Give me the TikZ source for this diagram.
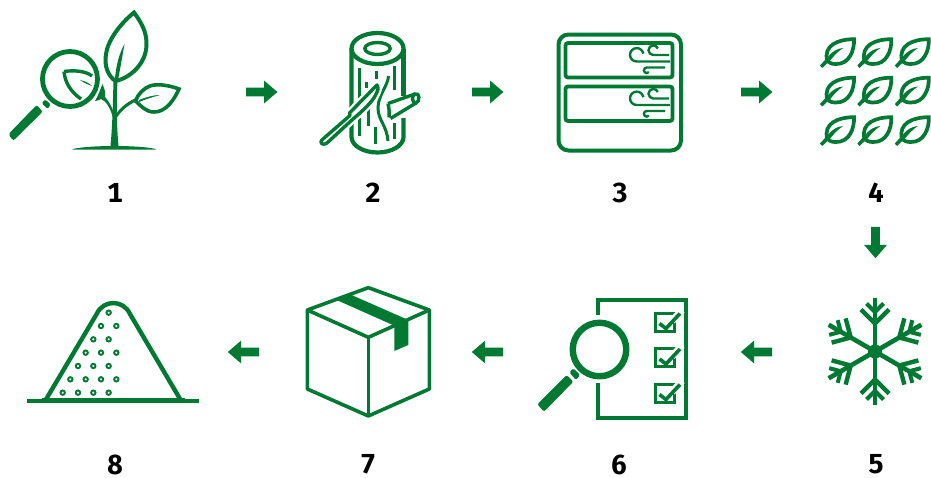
\documentclass[tikz,border=0pt]{standalone}
\usepackage{fontspec}
\setmainfont[Numbers=Monospaced]{Fira Sans}
\definecolor{gr}{HTML}{007A33}
\tikzset{
 num/.style={font=\fontsize{27.5}{27.5}\selectfont\bfseries,text=black,inner sep=0pt,anchor=center},
}
\newcommand{\fatarrow}[2]{\fill[gr,shift={(#1)},rotate=#2] (-15.7,-4.4) -- (2.3,-4.4) -- (2.3,-11.5) -- (15.7,0) -- (2.3,11.5) -- (2.3,4.4) -- (-15.7,4.4) -- cycle;}
\newcommand{\minileaf}[1]{\begin{scope}[shift={(#1)}]
 \draw[gr,line width=3.7pt,line join=miter] (-1.7,1.7) .. controls (-1.2,13) and (-6.5,27) .. (-20,26.5) .. controls (-24,26.5) and (-26,25.5) .. (-28.5,23.5) .. controls (-32.5,8) and (-18,1.7) .. (-1.7,1.7) -- cycle;
 \fill[gr] (-35.7,28) -- (-27,18.5) .. controls (-23,13.5) and (-18,11) .. (-12.5,10.5) .. controls (-18,14) and (-22,18.5) .. (-25,22.5) -- (-33.5,30.5) -- cycle;
\end{scope}}
\newcommand{\windy}[1]{\begin{scope}[shift={(0,#1)}]
 \draw[gr,line width=2.4pt] (670,61.5) -- (636.7,61.5) arc (90:350:6.7);
 \draw[gr,line width=2.4pt] (669,55) -- (653.3,55) arc (90:340:4.8);
 \draw[gr,line width=2.4pt] (665,67.5) -- (646.7,67.5) arc (270:40:2.8);
\end{scope}}
\newcommand{\chk}[1]{\begin{scope}[shift={(0,#1)}]
 \draw[gr,line width=3pt] (655.5,313) rectangle (674.5,331);
 \draw[white,line width=7pt] (672,321) -- (682,310);
 \draw[gr,line width=3.6pt] (659.5,323.5) -- (666,328.5) -- (680,313.5);
\end{scope}}
\begin{document}
\begin{tikzpicture}[x=1pt,y=-1pt]
\useasboundingbox (0,0) rectangle (931,477);

% ---- icon 1
\node[circle,draw=gr,line width=4.8pt,minimum size=55pt,inner sep=0pt] (glass1) at (70,79) {};
\fill[gr,rounded corners=2pt] (13.3,140.7) -- (8.3,134.3) -- (36.7,105) -- (42.7,111.7) -- cycle;
\fill[gr,rounded corners=1.5pt] (41.7,103.3) -- (45,99.3) -- (50.7,104.3) -- (47.7,109) -- cycle;
\draw[gr,line width=4pt,line join=miter] (134,12.5) .. controls (141,22) and (147,32) .. (146.5,45) .. controls (146,64) and (130,78) .. (115.5,81) .. controls (108,76) and (104,66) .. (106,54) .. controls (108,40) and (120,24) .. (134,12.5) -- cycle;
\fill[gr] (124.5,44) .. controls (122,58) and (120,70) .. (118,80) -- (115,79) .. controls (116,66) and (119,54) .. (124.5,44) -- cycle;
\fill[gr] (113.5,80) -- (117.5,80) .. controls (116.5,100) and (116.5,125) .. (118.5,146) -- (110.5,146) .. controls (112.5,125) and (113,100) .. (113.5,80) -- cycle;
\fill[gr] (116,114) .. controls (120,108) and (127,102) .. (135,98.5) -- (136,101.5) .. controls (128,105) and (121,111) .. (116,119) -- cycle;
\draw[gr,line width=3.6pt,line join=miter] (179,89) .. controls (171,86) and (158,83) .. (150,86) .. controls (144,88) and (138,94) .. (135.5,101) .. controls (141,106) and (146,112) .. (154,112) .. controls (166,112) and (174,100) .. (179,89) -- cycle;
\fill[gr] (139,100) .. controls (146,97) and (154,95) .. (160,95) .. controls (153,97) and (146,99) .. (139,102) -- cycle;
\fill[gr] (113.5,112) .. controls (111,105) and (108,100) .. (105,97) .. controls (106,92) and (104,88) .. (102.5,84) .. controls (100,90) and (99,94) .. (95,101) .. controls (97,101) and (99,100) .. (101,99) .. controls (106,101) and (110,107) .. (113.5,119) -- cycle;
\draw[gr,line width=3.4pt,line join=miter] (64,71.5) .. controls (74,70) and (86,71) .. (92,76);
\draw[gr,line width=3.4pt,line join=miter] (64,71.5) .. controls (65,83) and (71,92) .. (81,99);
\fill[gr] (80,80) .. controls (85,81) and (89,83) .. (92,86) .. controls (88,84.5) and (84,83) .. (80,80) -- cycle;
\fill[gr] (72.5,149) .. controls (90,145) and (140,145) .. (155.5,149) -- (155.5,149.5) -- (72.5,149.5) -- cycle;
\node[num] (n1) at (115,193) {1};

% ---- icon 2
\draw[gr,line width=4.2pt] (377.5,48.5) ellipse (26 and 15.5);
\draw[gr,line width=3.4pt] (377.5,48.5) ellipse (12.7 and 6);
\draw[gr,line width=4.2pt] (351.5,48.5) -- (351.5,137) arc (180:0:26 and 15.5) -- (403.5,118);
\draw[gr,line width=4.2pt] (403.5,48.5) -- (403.5,96);
\draw[gr,line width=3pt] (359.5,68) -- (359.5,136);
\draw[gr,line width=3pt] (376,71) -- (376,79);
\draw[gr,line width=3pt] (394,66) -- (394,90);
\draw[gr,line width=3pt] (366.5,82) -- (366.5,88);
\draw[gr,line width=3pt] (368,108) -- (368,126);
\draw[gr,line width=3pt] (375,127) -- (375,144);
\draw[gr,line width=3pt] (394,123) -- (394,139);
\draw[gr,line width=3pt] (388.5,76) .. controls (388,86) and (378,95) .. (378,108) .. controls (378,120) and (387,126) .. (388,141);
\fill[white] (389,104) -- (416,94) -- (416,103) -- (391,117) -- cycle;
\draw[gr,line width=3.4pt] (389,117.5) .. controls (389.5,112) and (389,108) .. (388,103.5);
\draw[gr,line width=3.4pt] (388,103.5) -- (415,94);
\draw[gr,line width=3.4pt] (390.5,118.5) -- (416,103);
\draw[gr,line width=3.4pt] (415,94) .. controls (420,92) and (420,102) .. (416,103) .. controls (412,103) and (411,96) .. (415,94) -- cycle;
\draw[white,line width=8pt,line join=round] (323,139) -- (350,115.5) -- (349.5,113) -- (377,85) .. controls (379,87) and (378,90) .. (377,92) .. controls (374,100) and (366,108) .. (353,119) -- (327,143);
\draw[gr,line width=3.4pt,line join=round,fill=white] (323,139) -- (350,115.5) -- (349.5,113) -- (377,85) .. controls (379,87) and (378,90) .. (377,92) .. controls (374,100) and (366,108) .. (353,119) -- (327,143) .. controls (323,146) and (318,143) .. (323,139) -- cycle;
\node[num] (n2) at (373,193) {2};

% ---- icon 3
\draw[gr,line width=4pt,rounded corners=10pt] (558.5,34.5) rectangle (681,150.5);
\draw[gr,line width=3.8pt,rounded corners=2.5pt] (565.5,43) rectangle (672.5,77.5);
\draw[gr,line width=3.8pt,rounded corners=2.5pt] (565.5,86.5) rectangle (672.5,121);
\windy{0}
\windy{43.5}
\node[num] (n3) at (620,193) {3};

% ---- icon 4
\minileaf{855.7,37.5}
\minileaf{893,37.5}
\minileaf{930.5,37.5}
\minileaf{855.7,76}
\minileaf{893,76}
\minileaf{930.5,76}
\minileaf{855.7,115.5}
\minileaf{893,115.5}
\minileaf{930.5,115.5}
\node[num] (n4) at (876,193) {4};

% ---- icon 5
\begin{scope}[shift={(875,351.5)}]
 \foreach \a in {0,60,...,300}{
 \begin{scope}[rotate=\a]
  \draw[gr,line width=4.6pt] (0,0) -- (0,-53.5);
  \draw[gr,line width=4.4pt] (-14,-42) -- (0,-28) -- (14,-42);
  \draw[gr,line width=4pt] (-8.5,-48) -- (0,-39.5) -- (8.5,-48);
 \end{scope}}
 \fill[gr] (0,-8) -- (7,-4) -- (7,4) -- (0,8) -- (-7,4) -- (-7,-4) -- cycle;
\end{scope}
\node[num] (n5) at (876,464.5) {5};

% ---- icon 6
\draw[gr,line width=3.6pt] (598,315) -- (598,300) -- (686,300) -- (686,418) -- (598,418) -- (598,383);
\chk{0}
\chk{35.5}
\chk{71}
\node[circle,draw=gr,line width=6.4pt,minimum size=53.5pt,inner sep=0pt] (glass6) at (599.5,349.5) {};
\fill[gr,rounded corners=2pt] (537.3,404.3) -- (566.7,375) -- (573.3,381.7) -- (544,411.7) -- cycle;
\fill[gr,rounded corners=1.5pt] (569.3,372.3) -- (573.3,368.3) -- (580,375) -- (576,380) -- cycle;
\node[num] (n6) at (619,464.5) {6};

% ---- icon 7
\begin{scope}[shift={(295,285)},x=0.3333pt,y=-0.3333pt]
 \draw[gr,line width=3.6pt,line join=round] (220,8) -- (403,75) -- (403,312) -- (220,393) -- (37,312) -- (37,75) -- cycle;
 \draw[gr,line width=3.6pt,line join=round] (37,75) -- (220,157) -- (403,75);
 \draw[gr,line width=3.6pt] (220,157) -- (220,393);
 \fill[gr] (125,45) -- (165,28) -- (340,105) -- (340,180) -- (298,198) -- (298,122) -- cycle;
\end{scope}
\node[num] (n7) at (368,464.5) {7};

% ---- icon 8
\begin{scope}[shift={(15,290)},x=0.3333pt,y=-0.3333pt]
 \draw[gr,line width=3.4pt] (37,333) -- (553,333);
 \draw[gr,line width=5pt] (80,333) -- (510,333);
 \draw[gr,line width=4.4pt] (92,330) -- (245,72) .. controls (265,28) and (325,28) .. (345,72) -- (497,330);
 \foreach \x/\y in {281/68,258/108,304/108,235/148,281/148,212/188,258/188,304/188,189/228,235/228,281/228,166/268,212/268,258/268,304/268,143/308,189/308,235/308,281/308}
  \draw[gr,line width=1.9pt] (\x,\y) circle (2.2pt);
\end{scope}
\node[num] (n8) at (115,464.5) {8};

% ---- arrows
\fatarrow{261.7,92}{0}
\fatarrow{487.7,92}{0}
\fatarrow{756.7,92}{0}
\fatarrow{875.5,242.5}{270}
\fatarrow{756.5,352}{180}
\fatarrow{487.5,352}{180}
\fatarrow{243.5,352}{180}
\end{tikzpicture}
\end{document}
